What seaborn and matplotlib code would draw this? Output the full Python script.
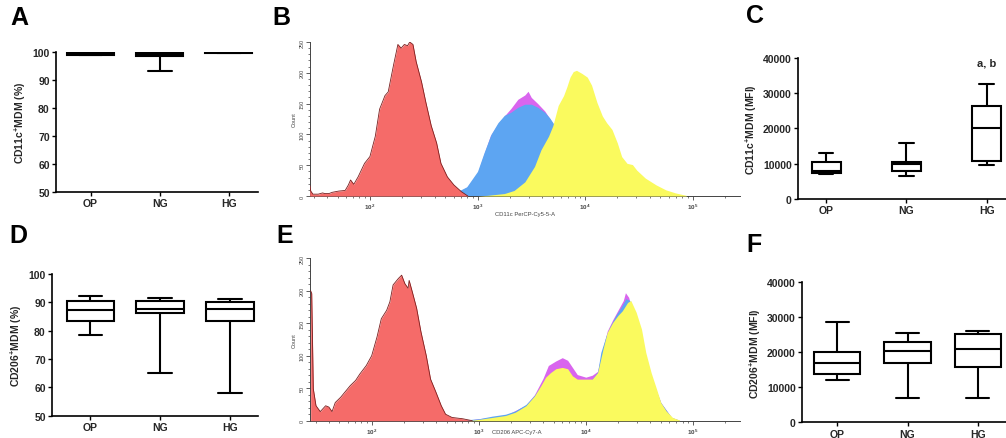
import numpy as np
import pandas as pd
import matplotlib
matplotlib.use("Agg")
import matplotlib.pyplot as plt
from matplotlib.ticker import MultipleLocator, LogLocator, NullFormatter
import seaborn as sns

sns.set_theme(style="white")
plt.rcParams['font.family'] = ['Liberation Sans', 'DejaVu Sans']
plt.rcParams['font.weight'] = 'bold'
plt.rcParams['axes.labelweight'] = 'bold'
plt.rcParams['mathtext.fontset'] = 'custom'
plt.rcParams['mathtext.rm'] = 'Liberation Sans:bold'
plt.rcParams['mathtext.bf'] = 'Liberation Sans:bold'
plt.rcParams['mathtext.it'] = 'Liberation Sans:bold'

# ---------------- data ----------------
groups = ["OP", "NG", "HG"]
# five-number summaries: min, Q1, median, Q3, max
a_op = [98.8, 99.0, 99.5, 99.8, 99.9]
a_ng = [93.2, 98.6, 99.2, 99.7, 100.0]
a_hg = [99.5, 99.7, 99.8, 99.9, 100.0]

d_op = [78.5, 83.3, 87.4, 90.6, 92.1]
d_ng = [65.1, 86.2, 87.6, 90.4, 91.5]
d_hg = [58.1, 83.3, 87.6, 90.0, 91.2]

c_op = [7100, 7350, 8000, 10400, 12900]
c_ng = [6400, 7830, 9900, 10400, 15850]
c_hg = [9700, 10660, 20000, 26200, 32550]

f_op = [12200, 13700, 16950, 20000, 28760]
f_ng = [6950, 16950, 20480, 22860, 25430]
f_hg = [6860, 15710, 20950, 25240, 26000]

# flow histograms: log10(intensity) and counts
b_red_x = [1.44, 1.45, 1.47, 1.52, 1.56, 1.58, 1.62, 1.65, 1.71, 1.77, 1.80, 1.82, 1.85, 1.89, 1.95, 2.00,
           2.05, 2.09, 2.14, 2.17, 2.22, 2.26, 2.29, 2.32, 2.35, 2.37, 2.40, 2.43, 2.48, 2.52, 2.57, 2.62,
           2.66, 2.72, 2.78, 2.85, 2.91]
b_red_y = [18, 8, 3, 3, 5, 4, 4, 6, 8, 9, 18, 26, 19, 31, 53, 64,
           97, 141, 163, 169, 213, 246, 240, 246, 244, 250, 246, 218, 185, 152, 114, 86,
           53, 31, 18, 7, 0]
b_mag_x = [2.70, 2.80, 2.90, 3.00, 3.06, 3.12, 3.19, 3.25, 3.31, 3.375, 3.44, 3.47, 3.50, 3.56, 3.625,
           3.67, 3.72, 3.80, 3.90, 4.00, 4.10, 4.20]
b_mag_y = [1, 5, 14, 37, 68, 98, 117, 130, 142, 157, 164, 170, 160, 150, 138,
           126, 112, 78, 44, 19, 7, 1]
b_blue_x = [2.65, 2.70, 2.80, 2.90, 3.00, 3.06, 3.125, 3.19, 3.25, 3.31, 3.375, 3.44, 3.50, 3.56, 3.625,
            3.67, 3.72, 3.80, 3.90, 4.00, 4.10, 4.20, 4.25]
b_blue_y = [0, 2, 6, 15, 40, 70, 100, 119, 131, 136, 144, 149, 149, 144, 136,
            127, 114, 80, 45, 20, 8, 2, 0]
b_yel_x = [3.00, 3.09, 3.25, 3.34, 3.44, 3.53, 3.59, 3.66, 3.70, 3.75, 3.80, 3.83, 3.86, 3.89, 3.92, 3.97,
           4.02, 4.06, 4.11, 4.16, 4.20, 4.25, 4.30, 4.34, 4.39, 4.44, 4.48, 4.56, 4.66, 4.75, 4.84, 4.94]
b_yel_y = [0, 1, 4, 9, 23, 48, 75, 97, 114, 147, 163, 177, 193, 202, 204, 199,
           193, 180, 152, 130, 119, 108, 86, 64, 53, 51, 42, 29, 18, 10, 5, 1]

e_red_x = [1.43, 1.44, 1.455, 1.48, 1.52, 1.57, 1.60, 1.63, 1.66, 1.71, 1.75, 1.80, 1.85, 1.89, 1.95, 2.00,
           2.05, 2.09, 2.14, 2.17, 2.20, 2.25, 2.28, 2.31, 2.34, 2.35, 2.38, 2.42, 2.46, 2.51, 2.55, 2.60,
           2.65, 2.69, 2.75, 2.85, 2.94]
e_red_y = [200, 196, 49, 23, 14, 23, 21, 14, 28, 36, 44, 54, 62, 72, 85, 100,
           129, 157, 170, 183, 209, 219, 224, 211, 204, 216, 198, 173, 137, 100, 64, 44,
           23, 10, 5, 3, 0]
e_mag_x = [2.90, 3.00, 3.25, 3.44, 3.52, 3.60, 3.65, 3.72, 3.78, 3.83, 3.875, 3.92, 4.00, 4.06, 4.11, 4.16,
           4.20, 4.25, 4.30, 4.35, 4.37, 4.40, 4.45, 4.50, 4.60, 4.70, 4.80, 4.87]
e_mag_y = [1, 3, 8, 24, 40, 65, 85, 92, 97, 93, 82, 71, 67, 70, 76, 112,
           138, 155, 170, 185, 197, 190, 160, 130, 70, 28, 5, 1]
e_blue_x = [2.85, 3.00, 3.125, 3.25, 3.34, 3.44, 3.52, 3.58, 3.70, 3.80, 3.90, 4.00, 4.06, 4.11, 4.14, 4.19,
            4.23, 4.28, 4.33, 4.375, 4.41, 4.45, 4.50, 4.55, 4.60, 4.70, 4.80, 4.87]
e_blue_y = [1, 3, 7, 10, 15, 25, 39, 53, 72, 78, 62, 62, 64, 75, 105, 131,
            146, 162, 175, 188, 185, 160, 130, 100, 70, 28, 5, 1]
e_yel_x = [2.90, 3.00, 3.125, 3.25, 3.34, 3.44, 3.52, 3.58, 3.625, 3.67, 3.72, 3.78, 3.83, 3.875, 3.92, 3.98,
           4.06, 4.11, 4.16, 4.20, 4.25, 4.30, 4.34, 4.39, 4.42, 4.47, 4.52, 4.56, 4.61, 4.66, 4.70, 4.75,
           4.81, 4.875]
e_yel_y = [0, 2, 5, 8, 13, 23, 38, 54, 67, 74, 80, 82, 80, 69, 64, 64,
           64, 74, 110, 136, 151, 162, 169, 182, 185, 167, 141, 105, 74, 49, 28, 15,
           5, 1]

hist_yticks = [0, 50, 100, 150, 200, 250]
hist_xticks = [1e2, 1e3, 1e4, 1e5]
hist_xticklabels = ["$10^2$", "$10^3$", "$10^4$", "$10^5$"]

# ---------------- figure ----------------
W, H = 1006, 439
fig = plt.figure(figsize=(W / 100, H / 100), dpi=100)
fig.patch.set_facecolor("white")


def px_axes(x0, x1, ytop, ybot):
    return fig.add_axes([x0 / W, 1 - ybot / H, (x1 - x0) / W, (ybot - ytop) / H])


FS = 7.5


def box_panel(ax, vals, ylim, yticks, ylabel, width, xlim):
    df = pd.DataFrame({"group": np.repeat(groups, 5),
                       "value": np.concatenate(vals)})
    sns.boxplot(data=df, x="group", y="value", order=groups, whis=(0, 100), width=width,
                color="white", linecolor="black", linewidth=1.5, fliersize=0, ax=ax)
    ax.set_ylim(*ylim)
    ax.set_xlim(*xlim)
    ax.set_yticks(yticks)
    ax.set_xlabel("")
    ax.set_ylabel(ylabel, fontsize=FS, fontweight="bold", labelpad=3)
    for s in ["top", "right"]:
        ax.spines[s].set_visible(False)
    for s in ["left", "bottom"]:
        ax.spines[s].set_color("black")
        ax.spines[s].set_linewidth(1.2)
    ax.tick_params(axis="both", direction="out", length=3, width=1, color="black",
                   labelsize=FS, pad=1.5, left=True, bottom=True)
    for lab in ax.get_xticklabels() + ax.get_yticklabels():
        lab.set_fontweight("bold")
    ax.set_facecolor("white")


# A
axA = px_axes(56, 258, 52.7, 193)
box_panel(axA, [a_op, a_ng, a_hg], (50, 100), [50, 60, 70, 80, 90, 100],
          r"CD11c$^{+}$MDM (%)", 0.68, (-0.5, 2.42))
# D
axD = px_axes(52, 258, 275, 416.7)
box_panel(axD, [d_op, d_ng, d_hg], (50, 100), [50, 60, 70, 80, 90, 100],
          r"CD206$^{+}$MDM (%)", 0.68, (-0.55, 2.4))
# C
axC = px_axes(798, 1006, 58.7, 200)
box_panel(axC, [c_op, c_ng, c_hg], (0, 40000), [0, 10000, 20000, 30000, 40000],
          r"CD11c$^{+}$MDM (MFI)", 0.36, (-0.35, 2.24))
axC.text(2, 38500, "a, b", ha="center", va="center", fontsize=FS + 0.5, fontweight="bold")
# F
axF = px_axes(802, 1006, 283.3, 423.3)
box_panel(axF, [f_op, f_ng, f_hg], (0, 40000), [0, 10000, 20000, 30000, 40000],
          r"CD206$^{+}$MDM (MFI)", 0.66, (-0.5, 2.4))

RED, RED_EDGE = "#F56B69", "#7A1E1E"
BLUE = "#5DA5F2"
YEL = "#FAFA5E"
MAG = "#D965EE"


def hist_panel(ax, series, xlim_log, xlabel, label_xy):
    for lx, cy, col, z, edge in series:
        xv = 10 ** np.array(lx)
        ax.fill_between(xv, cy, 0, color=col, lw=0, zorder=z)
        if edge:
            sns.lineplot(x=xv, y=cy, color=RED_EDGE, lw=0.6, ax=ax, zorder=z + 0.1,
                         estimator=None, sort=False)
    ax.set_xscale("log")
    ax.set_xlim(10 ** xlim_log[0], 10 ** xlim_log[1])
    ax.set_ylim(0, 250)
    for s in ["top", "right"]:
        ax.spines[s].set_visible(False)
    for s in ["left", "bottom"]:
        ax.spines[s].set_color("#444444")
        ax.spines[s].set_linewidth(0.7)
    ax.set_yticks(hist_yticks)
    ax.yaxis.set_minor_locator(MultipleLocator(10))
    ax.set_yticklabels([str(t) for t in hist_yticks], rotation=90, va="center",
                       fontsize=4, color="#444444", fontweight="normal")
    ax.set_xticks(hist_xticks)
    ax.set_xticklabels(hist_xticklabels, fontsize=4.5, color="#444444")
    ax.xaxis.set_minor_locator(LogLocator(base=10, subs=np.arange(2, 10)))
    ax.xaxis.set_minor_formatter(NullFormatter())
    ax.tick_params(axis="both", which="major", direction="out", length=3, width=0.6,
                   color="#444444", pad=1, left=True, bottom=True)
    ax.tick_params(axis="both", which="minor", direction="out", length=1.5, width=0.5,
                   color="#444444", left=True, bottom=True)
    ax.set_ylabel("Count", fontsize=4, color="#444444", labelpad=2, fontweight="normal")
    ax.set_xlabel(xlabel, fontsize=4.2, color="#444444", fontweight="normal")
    ax.xaxis.set_label_coords(*label_xy)
    ax.set_facecolor("none")


axB = px_axes(310, 740, 43, 197)
hist_panel(axB, [(b_mag_x, b_mag_y, MAG, 1, False),
                 (b_blue_x, b_blue_y, BLUE, 2, False),
                 (b_yel_x, b_yel_y, YEL, 3, False),
                 (b_red_x, b_red_y, RED, 4, True)],
           (1.443, 5.44), "CD11c PerCP-Cy5-5-A", (0.5, -0.095))

axE = px_axes(310, 740, 259.3, 421.7)
hist_panel(axE, [(e_mag_x, e_mag_y, MAG, 1, False),
                 (e_blue_x, e_blue_y, BLUE, 2, False),
                 (e_yel_x, e_yel_y, YEL, 3, False),
                 (e_red_x, e_red_y, RED, 4, True)],
           (1.424, 5.44), "CD206 APC-Cy7-A", (0.48, -0.05))

# panel letters
LFS = 18
for letter, x, y in [("A", 10, 6), ("B", 272, 6), ("C", 746, 4),
                     ("D", 9, 224), ("E", 276, 224), ("F", 746, 233)]:
    fig.text(x / W, 1 - y / H, letter, fontsize=LFS, fontweight="bold",
             ha="left", va="top", color="black")

fig.savefig("out.png", dpi=100, facecolor="white")
